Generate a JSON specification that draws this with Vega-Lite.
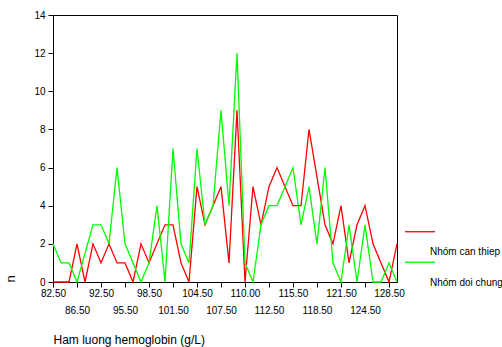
{
  "$schema": "https://vega.github.io/schema/vega-lite/v6.json",
  "autosize": {"type": "none"},
  "padding": {"left": 53, "top": 15, "right": 105, "bottom": 65},
  "width": 344,
  "height": 267,
  "background": "white",
  "config": {
    "view": {"stroke": "#000", "strokeWidth": 1},
    "font": "Liberation Sans",
    "axis": {"grid": false, "domainColor": "#000", "tickColor": "#000", "labelColor": "#000", "titleColor": "#000", "labelFont": "Liberation Sans", "titleFont": "Liberation Sans", "labelFontSize": 10, "titleFontSize": 12, "titleFontWeight": "normal", "tickSize": 5}
  },
  "data": {"values": [
    {"hb": 82.5, "g": "Nhóm can thiep", "n": 0}, {"hb": 82.5, "g": "Nhóm doi chung", "n": 2},
    {"hb": 84.0, "g": "Nhóm can thiep", "n": 0}, {"hb": 84.0, "g": "Nhóm doi chung", "n": 1},
    {"hb": 85.5, "g": "Nhóm can thiep", "n": 0}, {"hb": 85.5, "g": "Nhóm doi chung", "n": 1},
    {"hb": 86.5, "g": "Nhóm can thiep", "n": 2}, {"hb": 86.5, "g": "Nhóm doi chung", "n": 0},
    {"hb": 88.5, "g": "Nhóm can thiep", "n": 0},
    {"hb": 90.5, "g": "Nhóm can thiep", "n": 2}, {"hb": 90.5, "g": "Nhóm doi chung", "n": 3},
    {"hb": 92.5, "g": "Nhóm can thiep", "n": 1}, {"hb": 92.5, "g": "Nhóm doi chung", "n": 3},
    {"hb": 93.5, "g": "Nhóm can thiep", "n": 2}, {"hb": 93.5, "g": "Nhóm doi chung", "n": 2},
    {"hb": 94.5, "g": "Nhóm can thiep", "n": 1}, {"hb": 94.5, "g": "Nhóm doi chung", "n": 6},
    {"hb": 95.5, "g": "Nhóm can thiep", "n": 1}, {"hb": 95.5, "g": "Nhóm doi chung", "n": 2},
    {"hb": 96.5, "g": "Nhóm can thiep", "n": 0}, {"hb": 96.5, "g": "Nhóm doi chung", "n": 1},
    {"hb": 97.5, "g": "Nhóm can thiep", "n": 2}, {"hb": 97.5, "g": "Nhóm doi chung", "n": 0},
    {"hb": 98.5, "g": "Nhóm can thiep", "n": 1}, {"hb": 98.5, "g": "Nhóm doi chung", "n": 1},
    {"hb": 99.5, "g": "Nhóm can thiep", "n": 2}, {"hb": 99.5, "g": "Nhóm doi chung", "n": 4},
    {"hb": 100.5, "g": "Nhóm can thiep", "n": 3}, {"hb": 100.5, "g": "Nhóm doi chung", "n": 0},
    {"hb": 101.5, "g": "Nhóm can thiep", "n": 3}, {"hb": 101.5, "g": "Nhóm doi chung", "n": 7},
    {"hb": 102.5, "g": "Nhóm can thiep", "n": 1}, {"hb": 102.5, "g": "Nhóm doi chung", "n": 2},
    {"hb": 103.5, "g": "Nhóm can thiep", "n": 0}, {"hb": 103.5, "g": "Nhóm doi chung", "n": 1},
    {"hb": 104.5, "g": "Nhóm can thiep", "n": 5}, {"hb": 104.5, "g": "Nhóm doi chung", "n": 7},
    {"hb": 105.5, "g": "Nhóm can thiep", "n": 3}, {"hb": 105.5, "g": "Nhóm doi chung", "n": 3},
    {"hb": 106.5, "g": "Nhóm can thiep", "n": 4}, {"hb": 106.5, "g": "Nhóm doi chung", "n": 4},
    {"hb": 107.5, "g": "Nhóm can thiep", "n": 5}, {"hb": 107.5, "g": "Nhóm doi chung", "n": 9},
    {"hb": 108.5, "g": "Nhóm can thiep", "n": 1}, {"hb": 108.5, "g": "Nhóm doi chung", "n": 4},
    {"hb": 109.5, "g": "Nhóm can thiep", "n": 9}, {"hb": 109.5, "g": "Nhóm doi chung", "n": 12},
    {"hb": 110.0, "g": "Nhóm can thiep", "n": 0}, {"hb": 110.0, "g": "Nhóm doi chung", "n": 1},
    {"hb": 110.5, "g": "Nhóm can thiep", "n": 5}, {"hb": 110.5, "g": "Nhóm doi chung", "n": 0},
    {"hb": 111.5, "g": "Nhóm can thiep", "n": 3}, {"hb": 111.5, "g": "Nhóm doi chung", "n": 3},
    {"hb": 112.5, "g": "Nhóm can thiep", "n": 5}, {"hb": 112.5, "g": "Nhóm doi chung", "n": 4},
    {"hb": 113.5, "g": "Nhóm can thiep", "n": 6}, {"hb": 113.5, "g": "Nhóm doi chung", "n": 4},
    {"hb": 114.5, "g": "Nhóm can thiep", "n": 5}, {"hb": 114.5, "g": "Nhóm doi chung", "n": 5},
    {"hb": 115.5, "g": "Nhóm can thiep", "n": 4}, {"hb": 115.5, "g": "Nhóm doi chung", "n": 6},
    {"hb": 116.5, "g": "Nhóm can thiep", "n": 4}, {"hb": 116.5, "g": "Nhóm doi chung", "n": 3},
    {"hb": 117.5, "g": "Nhóm can thiep", "n": 8}, {"hb": 117.5, "g": "Nhóm doi chung", "n": 5},
    {"hb": 118.5, "g": "Nhóm doi chung", "n": 2},
    {"hb": 119.5, "g": "Nhóm can thiep", "n": 3}, {"hb": 119.5, "g": "Nhóm doi chung", "n": 6},
    {"hb": 120.5, "g": "Nhóm can thiep", "n": 2}, {"hb": 120.5, "g": "Nhóm doi chung", "n": 1},
    {"hb": 121.5, "g": "Nhóm can thiep", "n": 4}, {"hb": 121.5, "g": "Nhóm doi chung", "n": 0},
    {"hb": 122.5, "g": "Nhóm can thiep", "n": 1}, {"hb": 122.5, "g": "Nhóm doi chung", "n": 3},
    {"hb": 123.5, "g": "Nhóm can thiep", "n": 3}, {"hb": 123.5, "g": "Nhóm doi chung", "n": 0},
    {"hb": 124.5, "g": "Nhóm can thiep", "n": 4}, {"hb": 124.5, "g": "Nhóm doi chung", "n": 3},
    {"hb": 125.5, "g": "Nhóm can thiep", "n": 2}, {"hb": 125.5, "g": "Nhóm doi chung", "n": 0},
    {"hb": 127.0, "g": "Nhóm can thiep", "n": 1}, {"hb": 127.0, "g": "Nhóm doi chung", "n": 0},
    {"hb": 128.5, "g": "Nhóm can thiep", "n": 0}, {"hb": 128.5, "g": "Nhóm doi chung", "n": 1},
    {"hb": 130.0, "g": "Nhóm can thiep", "n": 2}, {"hb": 130.0, "g": "Nhóm doi chung", "n": 0}
  ]},
  "mark": {"type": "line", "strokeWidth": 1.3},
  "encoding": {
    "x": {
      "field": "hb", "type": "ordinal",
      "scale": {"type": "point", "padding": 0},
      "axis": {
        "title": "Ham luong hemoglobin (g/L)",
        "format": ".2f",
        "values": [82.5, 86.5, 92.5, 95.5, 98.5, 101.5, 104.5, 107.5, 110.0, 112.5, 115.5, 118.5, 121.5, 124.5, 128.5],
        "labelExpr": "indexof([82.5, 92.5, 98.5, 104.5, 110.0, 115.5, 121.5, 128.5], datum.value) >= 0 ? datum.label : ['', datum.label]",
        "labelAngle": 0,
        "labelOverlap": false,
        "labelPadding": 1,
        "labelLineHeight": 17,
        "labelBaseline": "top",
        "titleAnchor": "start",
        "titleAlign": "left",
        "titleBaseline": "alphabetic",
        "titleY": 61
      }
    },
    "y": {
      "field": "n", "type": "quantitative",
      "scale": {"domain": [0, 14], "nice": false},
      "axis": {
        "title": "n",
        "values": [0, 2, 4, 6, 8, 10, 12, 14],
        "titleAnchor": "start",
        "titleFontSize": 13,
        "titleX": -36,
        "labelPadding": 3
      }
    },
    "color": {
      "field": "g", "type": "nominal",
      "scale": {"domain": ["Nhóm can thiep", "Nhóm doi chung"], "range": ["#FF0000", "#00FF00"]},
      "legend": {
        "title": null,
        "orient": "none",
        "legendX": 351,
        "legendY": 221,
        "symbolType": "M-1,-1.35L1,-1.35",
        "symbolSize": 900,
        "symbolStrokeWidth": 1.3,
        "symbolFillColor": "transparent",
        "labelOffset": -6,
        "labelFontSize": 10,
        "labelLimit": 200,
        "labelColor": "#000",
        "labelFont": "Liberation Sans",
        "rowPadding": 2.5
      }
    }
  }
}
